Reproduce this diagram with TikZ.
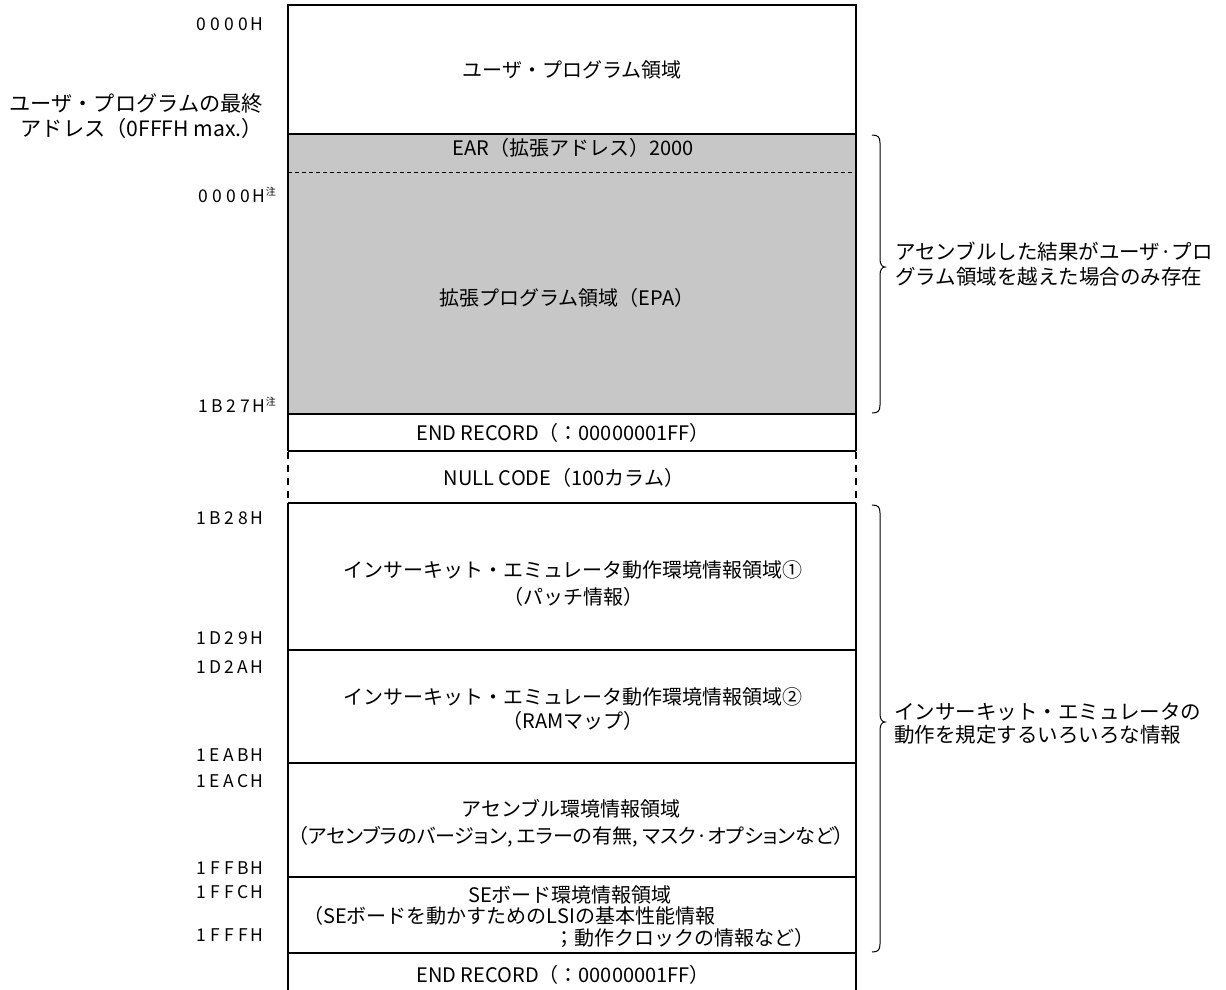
\documentclass[tikz,border=0pt]{standalone}
\usepackage{fontspec}
\setmainfont{Noto Sans CJK JP}
\newfontfamily\jpp{Noto Sans CJK JP}[RawFeature=+palt]
\makeatletter
\newcommand\spaced[1]{\@tfor\ch:=#1\do{\makebox[13.9pt]{\ch}}}
\makeatother
\newcommand\chu{\rlap{\raisebox{7pt}{\fontsize{10}{10}\selectfont 注}}}
\begin{document}
\begin{tikzpicture}[x=1pt,y=-1pt,
  inner/.style={font=\fontsize{20}{24}\selectfont, inner sep=0pt},
  outer/.style={font=\fontsize{20.5}{25}\selectfont, inner sep=0pt},
  addr/.style={font=\fontsize{17.5}{18}\selectfont, anchor=east, inner sep=0pt},
  boxline/.style={line width=2.4pt},
  sepline/.style={line width=1.3pt},
  dashline/.style={line width=2.4pt, dash pattern=on 7pt off 6pt},
  braceline/.style={line width=1pt}]
\useasboundingbox (0,0) rectangle (1226,989);

% shaded region
\fill[black!22] (288,134) rectangle (856,414);

% horizontal separators
\foreach \yy in {134,414,451,503,650,763,877,953}
  \draw[sepline] (288,\yy) -- (856,\yy);
\draw[line width=0.9pt, dash pattern=on 4pt off 3pt] (288,172) -- (856,172);

% outer box
\draw[boxline] (288,451) -- (288,5) -- (856,5) -- (856,451);
\draw[boxline] (288,992) -- (288,503);
\draw[boxline] (856,992) -- (856,503);
\draw[dashline] (288,452) -- (288,503);
\draw[dashline] (856,452) -- (856,503);

% texts inside
\node[inner] (up) at (572,70) {ユーザ・プログラム領域};
\node[inner] (ear) at (573,148) {EAR（拡張アドレス）2000};
\node[inner] (epa) at (567,298) {拡張プログラム領域（EPA）};
\node[inner] (end1) at (563,433) {END RECORD（：00000001FF）};
\node[inner] (null) at (564,478) {NULL CODE（100カラム）};
\node[inner] (ice1) at (573,570) {インサーキット・エミュレータ動作環境情報領域①};
\node[inner] (ice1b) at (573,597) {（パッチ情報）};
\node[inner] (ice2) at (573,697) {インサーキット・エミュレータ動作環境情報領域②};
\node[inner] (ice2b) at (573,721) {（RAMマップ）};
\node[inner] (asm) at (571,809) {アセンブル環境情報領域};
\node[inner] (asmb) at (571,837) {\jpp（アセンブラのバージョン, エラーの有無, マスク·オプションなど）};
\node[inner] (se) at (570,895) {SEボード環境情報領域};
\node[inner, anchor=west] (seb) at (303,916) {（SEボードを動かすためのLSIの基本性能情報};
\node[inner, anchor=east] (sec) at (815,938) {；動作クロックの情報など）};
\node[inner] (end2) at (563,975) {END RECORD（：00000001FF）};

% addresses
\node[addr] (a0) at (264,24) {\spaced{0000H}};
\node[addr] (a1) at (266,195) {\spaced{0000H}\chu};
\node[addr] (a2) at (266,405) {\spaced{1B27H}\chu};
\node[addr] (a3) at (264,518) {\spaced{1B28H}};
\node[addr] (a4) at (264,638) {\spaced{1D29H}};
\node[addr] (a5) at (264,667) {\spaced{1D2AH}};
\node[addr] (a6) at (264,755) {\spaced{1EABH}};
\node[addr] (a7) at (264,781) {\spaced{1EACH}};
\node[addr] (a8) at (264,868) {\spaced{1FFBH}};
\node[addr] (a9) at (264,892) {\spaced{1FFCH}};
\node[addr] (a10) at (264,935) {\spaced{1FFFH}};

% left label
\node[outer, anchor=east, font=\fontsize{21.2}{25}\selectfont] (l1) at (263,103) {ユーザ・プログラムの最終};
\node[outer, anchor=east, font=\fontsize{21.2}{25}\selectfont] (l2) at (263,128) {アドレス（0FFFH max.）};

% braces
\draw[braceline] (872,135) .. controls (878,135) and (880,137) .. (880,143) -- (880,259)
  .. controls (880,264) and (882,267) .. (885,267)
  .. controls (882,267) and (880,270) .. (880,275) -- (880,405)
  .. controls (880,411) and (878,413) .. (872,413);
\draw[braceline] (872,505) .. controls (878,505) and (880,507) .. (880,513) -- (880,714)
  .. controls (880,719) and (882,722) .. (885,722)
  .. controls (882,722) and (880,725) .. (880,730) -- (880,944)
  .. controls (880,950) and (878,952) .. (872,952);

% right labels
\node[outer, anchor=west] (r1) at (895,252) {アセンブルした結果がユーザ·プロ};
\node[outer, anchor=west] (r2) at (895,277) {グラム領域を越えた場合のみ存在};
\node[outer, anchor=west] (r3) at (894,712) {インサーキット・エミュレータの};
\node[outer, anchor=west] (r4) at (894,735) {動作を規定するいろいろな情報};
\end{tikzpicture}
\end{document}
